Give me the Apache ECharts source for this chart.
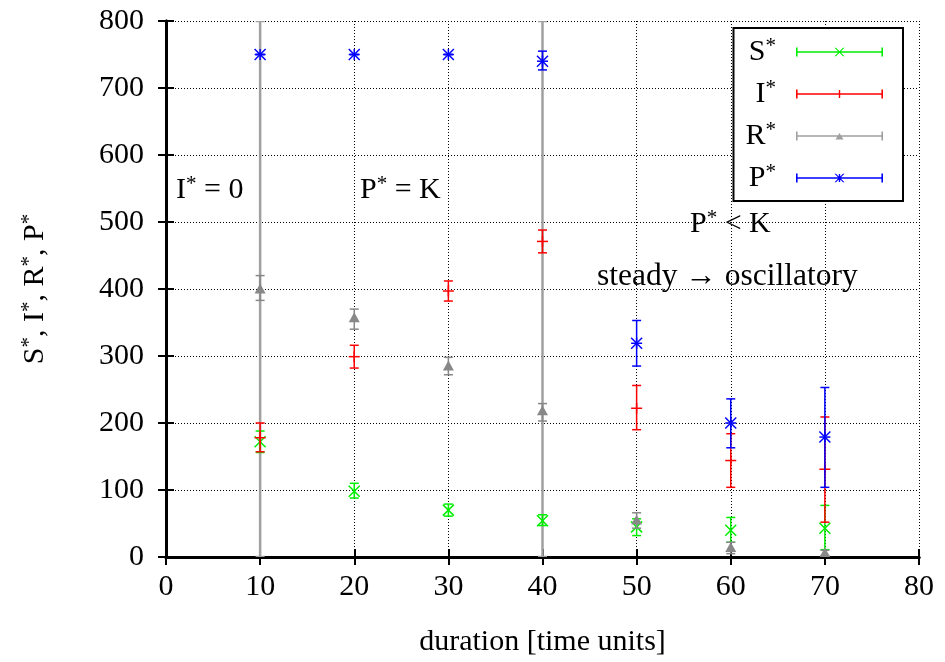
<!DOCTYPE html>
<html>
<head>
<meta charset="utf-8">
<script src="https://cdn.jsdelivr.net/npm/echarts@6/dist/echarts.min.js"></script>
<style>html,body{margin:0;padding:0;background:#fff;overflow:hidden}#c{width:945px;height:662px}</style>
</head>
<body>
<div id="c"></div>
<script>
// ---- data ----
const durations = [10, 20, 30, 40, 50, 60, 70];
const S_val  = [172,  98,  70,  54,  45,  40,  43];
const S_low  = [156,  88,  61,  47,  32,  22,  11];
const S_high = [188, 110,  79,  63,  57,  59,  77];
const I_val  = [178, 299, 397, 471, 222, 144, 131];
const I_low  = [157, 282, 382, 454, 190, 104,  52];
const I_high = [200, 316, 412, 488, 256, 184, 209];
const R_val  = [400, 357, 285, 218,  55,  14,   6];
const R_low  = [383, 340, 272, 203,  43,   5,   2];
const R_high = [420, 370, 298, 229,  66,  22,  10];
const P_val  = [750, 750, 750, 740, 319, 200, 179];
const P_low  = [750, 750, 750, 727, 285, 163, 104];
const P_high = [750, 750, 750, 755, 353, 236, 253];
// wide R* ranges (full-height grey bars)
const Rwide_x    = [10, 40];
const Rwide_low  = [0, 0];
const Rwide_high = [800, 800];
const xTicks = [0, 10, 20, 30, 40, 50, 60, 70, 80];
const yTicks = [0, 100, 200, 300, 400, 500, 600, 700, 800];

const FONT = '"Liberation Serif", "Times New Roman", serif';
const C = {S: '#00ee00', I: '#ff0000', R: '#888888', P: '#0000ff'};

function rows(xs, v, lo, hi) { return xs.map((x, i) => [x, v[i], lo[i], hi[i]]); }

function makeRender(shape, color, lw) {
  return function (params, api) {
    const x = api.value(0), y = api.value(1), lo = api.value(2), hi = api.value(3);
    const a = api.coord([x, lo]), b = api.coord([x, hi]), p = api.coord([x, y]);
    const cw = 4.5, ms = 5.5;
    const st = {stroke: color, lineWidth: lw};
    const ch = [
      {type: 'line', shape: {x1: a[0], y1: a[1], x2: b[0], y2: b[1]}, style: st},
      {type: 'line', shape: {x1: a[0] - cw, y1: a[1], x2: a[0] + cw, y2: a[1]}, style: st},
      {type: 'line', shape: {x1: b[0] - cw, y1: b[1], x2: b[0] + cw, y2: b[1]}, style: st}
    ];
    const px = p[0], py = p[1];
    if (shape === 'x' || shape === 'star') {
      ch.push({type: 'line', shape: {x1: px - ms, y1: py - ms, x2: px + ms, y2: py + ms}, style: st});
      ch.push({type: 'line', shape: {x1: px - ms, y1: py + ms, x2: px + ms, y2: py - ms}, style: st});
    }
    if (shape === 'plus' || shape === 'star') {
      ch.push({type: 'line', shape: {x1: px - ms, y1: py, x2: px + ms, y2: py}, style: st});
      ch.push({type: 'line', shape: {x1: px, y1: py - ms, x2: px, y2: py + ms}, style: st});
    }
    if (shape === 'tri') {
      ch.push({type: 'polygon', shape: {points: [[px - ms, py + ms * 0.8], [px + ms, py + ms * 0.8], [px, py - ms]]}, style: {fill: color}});
    }
    return {type: 'group', children: ch};
  };
}

// legend icon paths (87 x 9)
const base = 'M0,3.8H87V5.2H0Z M0,0H1.6V9H0Z M85.4,0H87V9H85.4Z ';
const mkX = 'M38.5,0.3L40,0.3L48.5,8.7L47,8.7Z M47,0.3L48.5,0.3L40,8.7L38.5,8.7Z ';
const mkPlus = 'M42.8,0.5H44.2V8.5H42.8Z ';
const mkTri = 'M39.5,8L43.5,1.5L47.5,8Z ';
const icons = {
  'S*': 'path://' + base + mkX,
  'I*': 'path://' + base + mkPlus,
  'R*': 'path://' + base + mkTri,
  'P*': 'path://' + base + mkX + mkPlus
};

const supRich = {
  m: {fontFamily: FONT, fontSize: 30, color: '#000', lineHeight: 32},
  s: {fontFamily: FONT, fontSize: 21, color: '#000', lineHeight: 20, verticalAlign: 'top'},
  g: {width: 15}
};

const chart = echarts.init(document.getElementById('c'));
chart.setOption({
  animation: false,
  backgroundColor: '#fff',
  grid: {left: 166, right: 26, top: 21, bottom: 102, containLabel: false},
  xAxis: [{
    type: 'value', min: xTicks[0], max: xTicks[xTicks.length - 1], interval: 10,
    name: 'duration [time units]', nameLocation: 'middle', nameGap: 70,
    nameTextStyle: {fontFamily: FONT, fontSize: 30, color: '#000'},
    axisLine: {show: true, lineStyle: {color: '#000', width: 3}},
    axisTick: {show: true, inside: true, length: 8, lineStyle: {color: '#000', width: 2}},
    axisLabel: {fontFamily: FONT, fontSize: 30, color: '#000', margin: 15},
    splitLine: {show: true, lineStyle: {color: '#000', type: [1, 2], width: 1}}
  }, {
    type: 'value', position: 'top', min: 0, max: 80, interval: 10,
    axisLine: {show: true, lineStyle: {color: '#000', width: 3}},
    axisTick: {show: true, inside: true, length: 8, lineStyle: {color: '#000', width: 2}},
    axisLabel: {show: false}, splitLine: {show: false}
  }],
  yAxis: [{
    type: 'value', min: yTicks[0], max: yTicks[yTicks.length - 1], interval: 100,
    name: '{m|S}{s|*}{m|, I}{s|*}{m|, R}{s|*}{m|, P}{s|*}',
    nameLocation: 'middle', nameRotate: 90, nameGap: 115,
    nameTextStyle: {rich: supRich},
    axisLine: {show: true, lineStyle: {color: '#000', width: 3}},
    axisTick: {show: true, inside: true, length: 8, lineStyle: {color: '#000', width: 2}},
    axisLabel: {fontFamily: FONT, fontSize: 30, color: '#000', margin: 22},
    splitLine: {show: true, lineStyle: {color: '#000', type: [1, 2], width: 1}}
  }, {
    type: 'value', position: 'right', min: 0, max: 800, interval: 100,
    axisLine: {show: true, lineStyle: {color: '#000', width: 3}},
    axisTick: {show: true, inside: true, length: 8, lineStyle: {color: '#000', width: 2}},
    axisLabel: {show: false}, splitLine: {show: false}
  }],
  legend: {
    orient: 'vertical', right: 42, top: 28, align: 'right',
    padding: [8, 20, 8, 12], itemGap: 11,
    itemWidth: 87, itemHeight: 9,
    borderColor: '#000', borderWidth: 2, backgroundColor: '#fff',
    selectedMode: false,
    itemStyle: {borderWidth: 0},
    data: [
      {name: 'S*', icon: icons['S*']},
      {name: 'I*', icon: icons['I*']},
      {name: 'R*', icon: icons['R*']},
      {name: 'P*', icon: icons['P*']}
    ],
    formatter: function (name) { return '{m|' + name[0] + '}{s|*}{g|}'; },
    textStyle: {rich: supRich}
  },
  graphic: [
    {type: 'text', left: 176, top: 174, z: 10,
      style: {text: '{m|I}{s|*}{m| = 0}', rich: supRich}},
    {type: 'text', left: 360, top: 174, z: 10,
      style: {text: '{m|P}{s|*}{m| = K}', rich: supRich}},
    {type: 'text', left: 690, top: 208, z: 10,
      style: {text: '{m|P}{s|*}{m| < K}', rich: supRich}},
    {type: 'text', left: 597, top: 261, z: 10,
      style: {text: 'steady \u2192 oscillatory', fontFamily: FONT, fontSize: 31.5, fill: '#000'}}
  ],
  series: [
    {type: 'custom', name: 'R*', color: '#a0a0a0', clip: true, z: 1,
      renderItem: makeRender('none', '#a0a0a0', 2.5),
      data: rows(Rwide_x, Rwide_low, Rwide_low, Rwide_high)},
    {type: 'custom', name: 'S*', color: C.S, clip: true, z: 2,
      renderItem: makeRender('x', C.S, 1.5), data: rows(durations, S_val, S_low, S_high)},
    {type: 'custom', name: 'I*', color: C.I, clip: true, z: 3,
      renderItem: makeRender('plus', C.I, 1.5), data: rows(durations, I_val, I_low, I_high)},
    {type: 'custom', name: 'R*', color: C.R, clip: true, z: 4,
      renderItem: makeRender('tri', C.R, 1.5), data: rows(durations, R_val, R_low, R_high)},
    {type: 'custom', name: 'P*', color: C.P, clip: true, z: 5,
      renderItem: makeRender('star', C.P, 1.5), data: rows(durations, P_val, P_low, P_high)}
  ]
});
</script>
</body>
</html>
